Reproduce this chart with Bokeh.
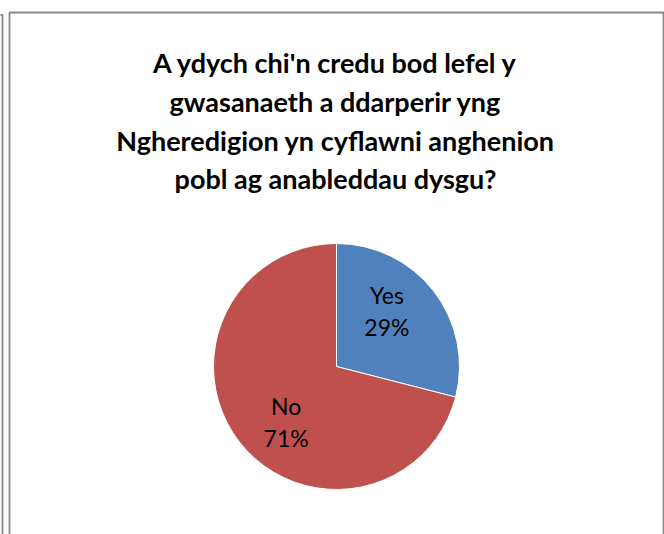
import math
from bokeh.plotting import figure
from bokeh.models import ColumnDataSource, Range1d, BoxAnnotation
from bokeh.core.properties import value
from bokeh.embed import file_html
from bokeh.resources import INLINE

# ---- data ----
title_lines = [
    "A ydych chi'n credu bod lefel y",
    "gwasanaeth a ddarperir yng",
    "Ngheredigion yn cyflawni anghenion",
    "pobl ag anableddau dysgu?",
]
categories = ["Yes", "No"]
shares = [29, 71]
colors = ["#4F81BD", "#C0504D"]

# ---- layout ----
W, H = 664, 534


def fx(px):
    return px


def fy(py):
    return H - py


p = figure(width=W, height=H, x_range=Range1d(0, W), y_range=Range1d(0, H),
           x_axis_type=None, y_axis_type=None, output_backend="svg",
           toolbar_location=None, min_border=0)
p.grid.visible = False
p.outline_line_color = None
p.background_fill_color = "white"
p.border_fill_color = "white"

# neighbouring chart edge and chart area border
p.add_layout(BoxAnnotation(left=-20, right=fx(2.0), top=fy(14.5), bottom=-20,
                           fill_color=None, line_color="#888888", line_alpha=1.0,
                           line_width=1.8))
p.add_layout(BoxAnnotation(left=fx(9.0), right=fx(663.0), top=fy(12.0), bottom=-20,
                           fill_color=None, line_color="#888888", line_alpha=1.0,
                           line_width=1.8))

# ---- pie ----
cx, cy, R = fx(336), fy(366), 123
label_rot = math.radians(10)
total = sum(shares)
starts, ends, lx, ly, labels = [], [], [], [], []
cum = 0
for cat, s in zip(categories, shares):
    a0 = math.pi / 2 - 2 * math.pi * cum / total
    cum += s
    a1 = math.pi / 2 - 2 * math.pi * cum / total
    starts.append(a1)
    ends.append(a0)
    mid = (a0 + a1) / 2 + label_rot
    lx.append(cx + 0.61 * R * math.cos(mid))
    ly.append(cy + 0.61 * R * math.sin(mid))
    labels.append(f"{cat}\n{round(100 * s / total)}%")

src = ColumnDataSource(dict(start=starts, end=ends, color=colors, lx=lx, ly=ly, label=labels))
p.wedge(x=cx, y=cy, radius=R, radius_units="screen", start_angle="start", end_angle="end",
        fill_color="color", line_color="white", line_width=1, source=src)
p.text(x="lx", y="ly", text="label", source=src, text_align="center", text_baseline="middle",
       text_font=value("Lato"), text_font_size="23px", text_color="black", text_line_height=1.15)

# ---- title ----
tsrc = ColumnDataSource(dict(x=[fx(335)] * len(title_lines),
                             y=[fy(62 + 38.8 * i) for i in range(len(title_lines))],
                             t=title_lines))
p.text(x="x", y="y", text="t", source=tsrc, text_align="center", text_baseline="alphabetic",
       text_font=value("Lato"), text_font_style="bold", text_font_size="27px", text_color="black")

open("out.html", "w").write(file_html(p, INLINE))
